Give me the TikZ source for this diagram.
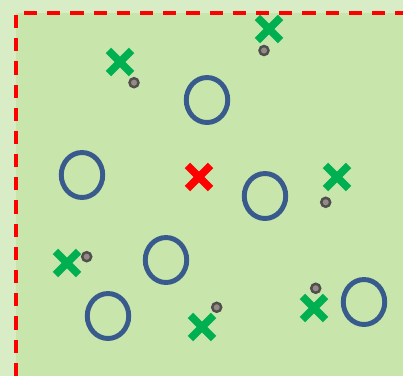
\documentclass[tikz,border=0pt]{standalone}
\usepackage{tikz}
\usetikzlibrary{shapes.geometric,shapes.misc}

\definecolor{outerbg}{RGB}{216,237,198}
\definecolor{innerbg}{RGB}{200,230,171}
\definecolor{ringblue}{RGB}{56,90,140}
\definecolor{markgreen}{RGB}{0,176,80}
\definecolor{pebbledark}{RGB}{80,78,78}
\definecolor{pebblefill}{RGB}{150,138,132}

\begin{document}
\begin{tikzpicture}[x=0.02cm, y=-0.02cm,
  hole/.style = {draw=ringblue, ellipse, line width=2.8pt, minimum width=0.83cm, minimum height=0.9cm, inner sep=0pt},
  greenx/.style = {draw=markgreen, cross out, line width=4.4pt, minimum size=0.31cm, inner sep=0pt},
  redx/.style = {greenx, draw=red},
  pebble/.style = {draw=pebbledark, fill=pebblefill, circle, line width=1.4pt, minimum size=0.18cm, inner sep=0pt}]
\clip (0,0) rectangle (403,376);
\useasboundingbox (0,0) rectangle (403,376);
\fill[outerbg] (0,0) rectangle (403,376);
\fill[innerbg] (16,13) rectangle (403,376);
\draw[red, line width=2pt, dash pattern=on 7.5pt off 5.7pt] (16,376) -- (16,13) -- (404.4,13) -- (404.4,376);

\node[hole] (o1) at (207,100) {};
\node[hole] (o2) at (82,175) {};
\node[hole] (o3) at (265,196) {};
\node[hole] (o4) at (166,260) {};
\node[hole] (o5) at (108,316) {};
\node[hole] (o6) at (364,302) {};

\node[redx] (r) at (199,177) {};

\node[greenx] (g1) at (269,29) {};
\node[greenx] (g2) at (120,62) {};
\node[greenx] (g3) at (337,177) {};
\node[greenx] (g4) at (67,263) {};
\node[greenx] (g5) at (202,327) {};
\node[greenx] (g6) at (314,308) {};

\node[pebble] (d1) at (264,50.5) {};
\node[pebble] (d2) at (134,82.7) {};
\node[pebble] (d3) at (325.7,202.3) {};
\node[pebble] (d4) at (86.7,256.7) {};
\node[pebble] (d5) at (216.7,307.3) {};
\node[pebble] (d6) at (315.7,288.3) {};
\end{tikzpicture}
\end{document}
